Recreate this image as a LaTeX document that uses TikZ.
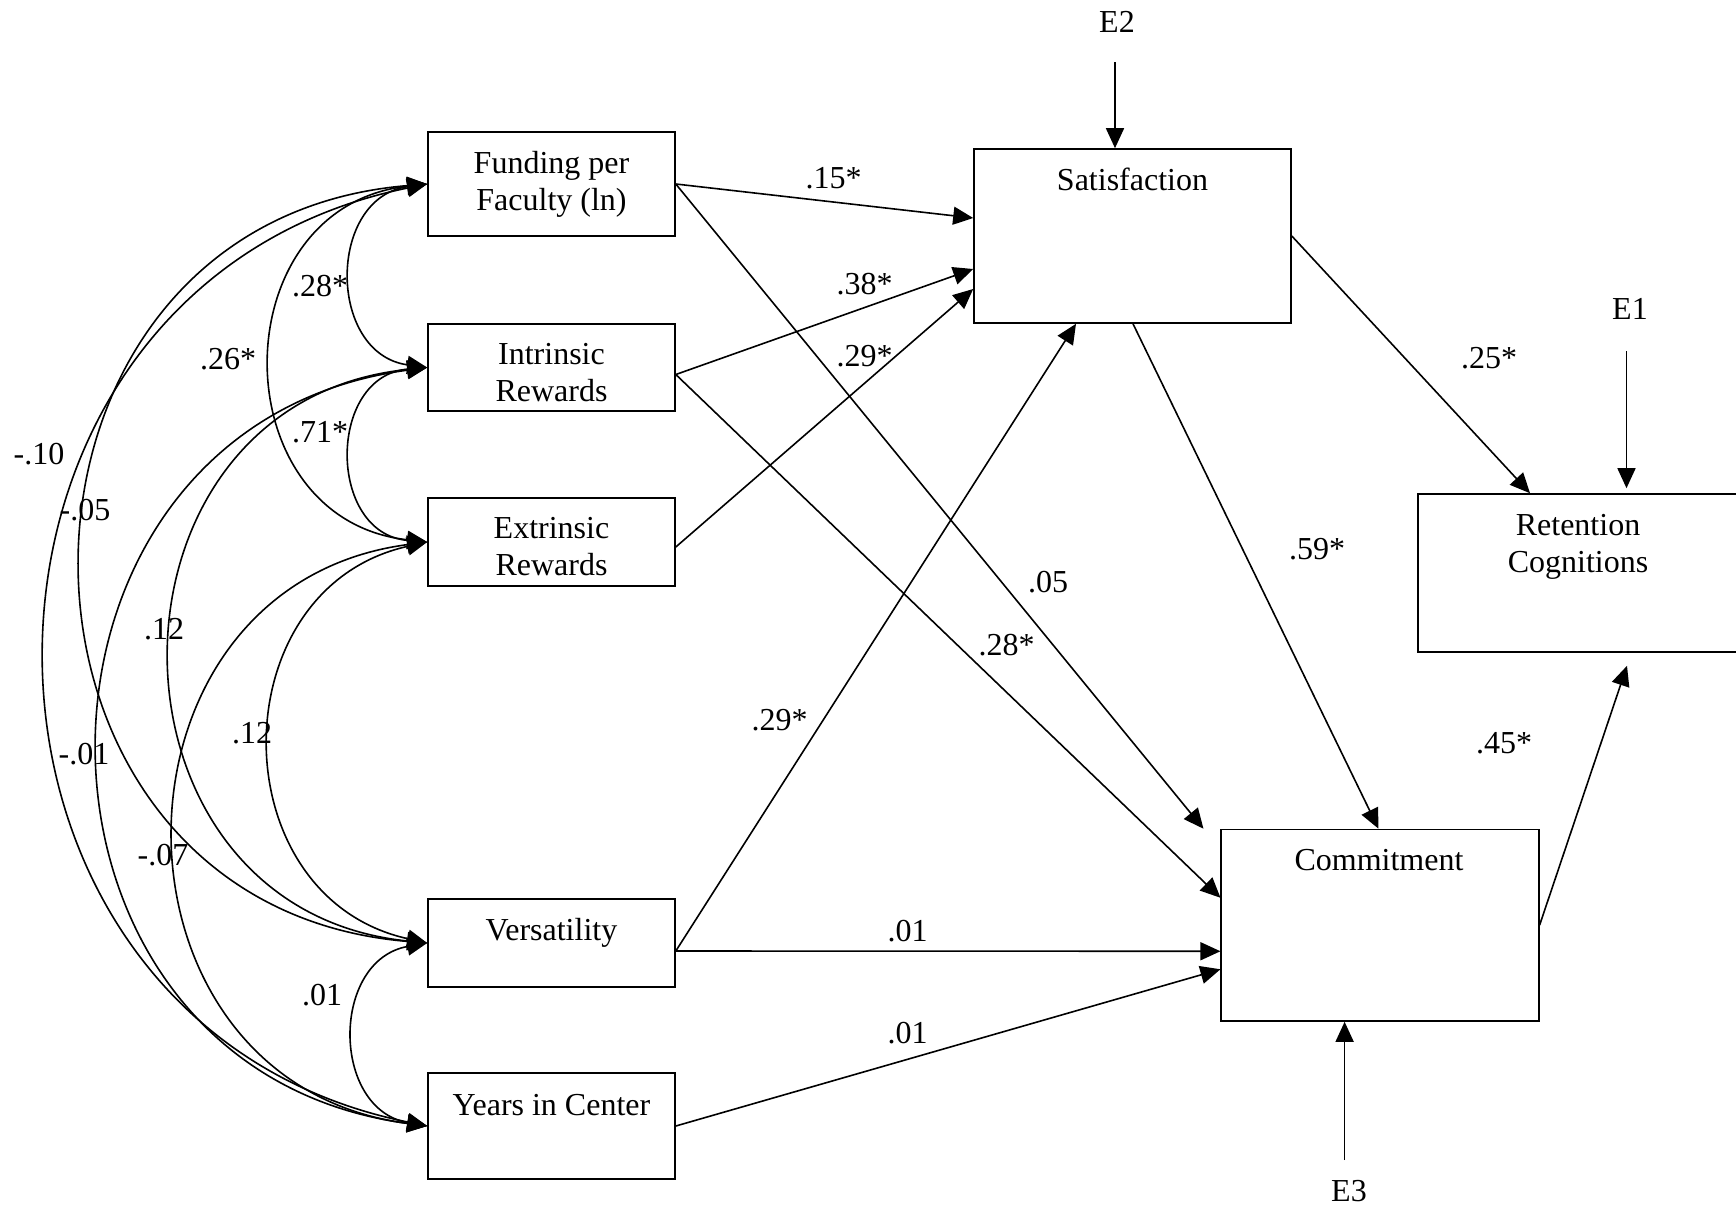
\documentclass[tikz,border=0pt]{standalone}
\usepackage{fontspec}
\setmainfont{Liberation Serif}
\usetikzlibrary{arrows.meta,calc}
\begin{document}
\begin{tikzpicture}[x=0.5pt,y=-0.5pt,
  line width=0.8pt,
  >={Triangle[length=10pt,width=9pt]},
  every node/.style={font=\fontsize{16}{18.5}\selectfont, inner sep=0pt},
  varbox/.style 2 args={draw, rectangle, minimum width=#1, minimum height=#2},
  boxtext/.style={align=center},
  lab/.style={anchor=base},
  cov/.style={<->}
]
% page frame
\fill[white] (0,0) rectangle (1736,1206);
\clip (0,0) rectangle (1736,1206);

% exogenous variables
\node[varbox={123.5pt}{52pt}]   (F) at (551.5,184) {};
\node[varbox={123.5pt}{43.5pt}] (I) at (551.5,367.5) {};
\node[varbox={123.5pt}{44pt}]   (E) at (551.5,542) {};
\node[varbox={123.5pt}{44pt}]   (V) at (551.5,943) {};
\node[varbox={123.5pt}{53pt}]   (Y) at (551.5,1126) {};
% endogenous variables
\node[varbox={158.5pt}{87pt}]     (sat) at (1132.5,236) {};
\node[varbox={160pt}{79pt}]       (ret) at (1578,573) {};
\node[varbox={158.75pt}{95.75pt}] (com) at (1380,925.25) {};

% box captions
\node[boxtext] (Ft)   at (551.5,184.5) {\strut Funding per\\\strut Faculty (ln)};
\node[boxtext] (It)   at (551.5,375.5) {\strut Intrinsic\\\strut Rewards};
\node[boxtext] (Et)   at (551.5,550)   {\strut Extrinsic\\\strut Rewards};
\node[boxtext] (Vt)   at (551.5,933.5) {\strut Versatility};
\node[boxtext] (Yt)   at (551.5,1108)  {\strut Years in Center};
\node[boxtext] (satt) at (1132.5,183)  {\strut Satisfaction};
\node[boxtext] (rett) at (1578,546.3)  {\strut Retention\\\strut Cognitions};
\node[boxtext] (comt) at (1379,863)    {\strut Commitment};

% error terms
\node[lab] (e2) at (1117,32.5)   {E2};
\node[lab] (e1) at (1630,319.5)  {E1};
\node[lab] (e3) at (1349,1201.5) {E3};
\coordinate (e2t) at (1115,62);
\coordinate (e1t) at (1626.5,351);
\coordinate (e3t) at (1344.6,1160);
\draw[->] (e2t) -- (e2t |- sat.north);
\draw[->] (e1t) -- ($(e1t |- ret.north)+(0,-5)$);
\draw[->] (e3t) -- (e3t |- com.south);

% structural paths
\draw[->] (F.east) -- ($(sat.west)+(0,-18)$);
\draw[->] ($(I.east)+(0,7)$) -- ($(sat.west)+(0,33)$);
\draw[->] ($(E.east)+(0,5)$) -- ($(sat.west)+(0,53)$);
\draw[->] ($(V.east)+(0,8)$) -- ($(sat.south)+(-56.5,0)$);
\draw[->] (F.east) -- ($(com.north west)+(-17,0)$);
\draw[->] ($(I.east)+(0,7)$) -- ($(com.west)+(0,-27.5)$);
\draw[->] ($(V.east)+(0,8)$) -- ($(com.west)+(0,26)$);
\draw[->] (Y.east) -- ($(com.west)+(0,44)$);
\draw[->] ($(sat.south)+(0.5,0)$) -- ($(com.north)+(-1.5,0)$);
\draw[->] (sat.east) -- ($(ret.north)+(-48,0)$);
\draw[->] (com.east) -- ($(ret.south)+(49,13)$);

% covariances (near-circular arcs on the left)
\draw[cov] (F.west) to[out=187.7,in=172.3,distance=50.6pt]  (I.west);
\draw[cov] (I.west) to[out=184.8,in=175.2,distance=50.3pt]  (E.west);
\draw[cov] (F.west) to[out=186.3,in=173.7,distance=104.1pt] (E.west);
\draw[cov] (V.west) to[out=190.0,in=170.0,distance=49.0pt]  (Y.west);
\draw[cov] (E.west) to[out=192.5,in=167.5,distance=106.7pt] (V.west);
\draw[cov] (I.west) to[out=185.8,in=174.2,distance=171.0pt] (V.west);
\draw[cov] (E.west) to[out=187.5,in=172.5,distance=169.0pt] (Y.west);
\draw[cov] (F.west) to[out=184.7,in=175.3,distance=230.3pt] (V.west);
\draw[cov] (I.west) to[out=187.6,in=172.4,distance=220.1pt] (Y.west);
\draw[cov] (F.west) to[out=191.5,in=168.5,distance=258.7pt] (Y.west);

% coefficients
\node[lab] (c1)  at (320,296.5)   {.28*};
\node[lab] (c2)  at (320,442.5)   {.71*};
\node[lab] (c3)  at (228,369.5)   {.26*};
\node[lab] (c4)  at (39,464.5)    {-.10};
\node[lab] (c5)  at (85,520.5)    {-.05};
\node[lab] (c6)  at (164,639.5)   {.12};
\node[lab] (c7)  at (252,743.5)   {.12};
\node[lab] (c8)  at (84,764.5)    {-.01};
\node[lab] (c9)  at (163,865.5)   {-.07};
\node[lab] (c10) at (322,1005.5)  {.01};
\node[lab] (p1)  at (833.5,188.5) {.15*};
\node[lab] (p2)  at (864.7,294.9) {.38*};
\node[lab] (p3)  at (864.7,366.1) {.29*};
\node[lab] (p4)  at (1048,592.5)  {.05};
\node[lab] (p5)  at (1006.6,655.5){.28*};
\node[lab] (p6)  at (1317,559.5)  {.59*};
\node[lab] (p7)  at (1489,368.5)  {.25*};
\node[lab] (p8)  at (779.5,730.5) {.29*};
\node[lab] (p9)  at (907.6,941)   {.01};
\node[lab] (p10) at (907.6,1043.5){.01};
\node[lab] (p11) at (1504,753.5)  {.45*};
\end{tikzpicture}
\end{document}
